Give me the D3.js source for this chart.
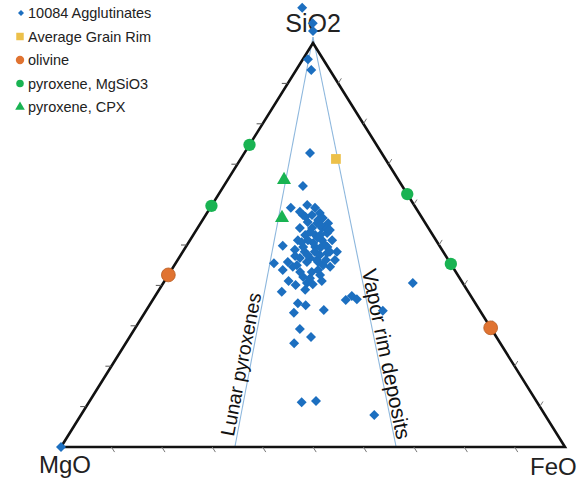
<!DOCTYPE html>
<html><head><meta charset="utf-8">
<script src="https://cdn.jsdelivr.net/npm/d3@7/dist/d3.min.js"></script>
<style>body{margin:0;background:#fff}svg{display:block}text{font-family:"Liberation Sans",Arial,sans-serif}</style>
</head><body>
<svg id="c" width="583" height="481"></svg>
<script>
// Ternary compositions in percent (SiO2, FeO; MgO = 100 - SiO2 - FeO)
const aggSiO2 = [108.7,104.9,103.0,96.0,93.3,72.8,64.6,59.2,59.9,59.2,57.4,57.9,56.7,55.7,55.4,55.4,54.2,54.2,52.5,52.5,53.0,51.2,51.2,51.2,51.2,49.5,49.5,49.5,49.8,48.8,48.3,48.3,48.0,48.3,46.3,44.6,45.5,43.8,45.0,45.8,46.3,45.0,44.6,42.1,41.1,40.6,40.3,41.1,38.4,38.9,35.6,35.1,33.2,33.9,36.4,37.4,36.6,33.7,40.6,29.2,27.2,25.7,11.1,11.4,7.9,0,46.8,46.8,43.8,43.3,50.0,54.2,47.5,57.4,
  58.2,56.2,54.2,53.2,52.5,53.7,50.7,50.5,49.3,48.3,47.5,45.8,46.3,47.3,45.8,43.3,41.8,42.6,40.1,57.0,55.0,51.8];
const aggFeO  = [-6.5,-2.5,-1.5,1.0,3.0,13.0,15.7,16.0,18.9,20.8,21.1,22.4,23.6,21.1,23.1,25.3,22.7,24.7,22.2,24.2,26.3,28.2,21.4,23.4,26.2,23.3,25.7,28.1,19.1,22.0,24.2,26.2,28.8,30.6,31.2,31.1,19.5,22.1,24.3,25.9,27.6,29.5,23.7,27.0,24.6,28.5,29.8,31.2,24.6,29.0,29.2,31.0,29.6,35.2,38.3,39.0,40.4,47.0,49.5,32.8,36.0,33.4,42.2,44.9,58.2,0,26.0,24.0,29.1,28.1,27.4,20.3,27.6,19.3,
  18.3,22.9,25.5,22.8,25.2,26.5,22.4,24.8,26.8,29.2,25.2,28.1,29.4,22.8,22.1,25.8,28.5,30.1,26.5,20.0,24.0,25.0];
const rimSiO2 = [71.3], rimFeO = [18.9];
const olivineSiO2 = [42.6,29.5], olivineFeO = [0,70.5];
const pyxSiO2 = [74.8,59.7,62.6,45.3], pyxFeO = [0,0,37.4,54.7];
const cpxSiO2 = [66.1,56.7], cpxFeO = [11.2,15.5];
const guideBaseFeO = [34.5,66.5]; // reference lines from SiO2 apex to base
const legendLabels = ["10084 Agglutinates","Average Grain Rim","olivine","pyroxene, MgSiO3","pyroxene, CPX"];
const cornerLabels = ["SiO2","MgO","FeO"];
const guideLabels = ["Lunar pyroxenes","Vapor rim deposits"];
const tickPcts = [10,20,30,40,50,60,70,80,90];

const svg = d3.select("#c");
const x = d3.scaleLinear().domain([0,100]).range([61,565]);
const y = d3.scaleLinear().domain([0,100]).range([447,43]);
const P = (s,f) => [x(f + s/2), y(s)];

const BLUE="#1c6fc0", GOLD="#ecc04a", ORANGE="#e07331", GREEN="#19b352", LINE="#8db7dd";

guideBaseFeO.forEach(f=>{
  const a=P(100,0), b=P(0,f);
  svg.append("line").attr("x1",a[0]).attr("y1",a[1]-6).attr("x2",b[0]).attr("y2",b[1])
   .attr("stroke",LINE).attr("stroke-width",1.1);
});

const A=P(0,0), B=P(0,100), C=P(100,0);
svg.append("path").attr("d",`M${A}L${B}L${C}Z`).attr("fill","none").attr("stroke","#111").attr("stroke-width",2.6).attr("stroke-linejoin","miter");

const tl=6;
const ux=(C[0]-B[0]), uy=(C[1]-B[1]); const ul=Math.hypot(ux,uy);
const vx=C[0]-A[0], vy=C[1]-A[1], vl=Math.hypot(vx,vy);
tickPcts.forEach(t=>{
  let p=P(0,t);
  svg.append("line").attr("x1",p[0]).attr("y1",p[1]).attr("x2",p[0]-tl*ux/ul).attr("y2",p[1]-tl*uy/ul)
    .attr("stroke","#777").attr("stroke-width",1);
  p=P(t,0);
  svg.append("line").attr("x1",p[0]).attr("y1",p[1]).attr("x2",p[0]-tl).attr("y2",p[1]).attr("stroke","#555").attr("stroke-width",1);
  p=P(t,100-t);
  svg.append("line").attr("x1",p[0]).attr("y1",p[1]).attr("x2",p[0]+tl*vx/vl).attr("y2",p[1]+tl*vy/vl).attr("stroke","#777").attr("stroke-width",1);
});

(function(){
  const a=P(100,0), b=P(0,guideBaseFeO[0]);
  const ang=Math.atan2(a[1]-b[1],a[0]-b[0])*180/Math.PI;
  const t=0.025; const px=b[0]+(a[0]-b[0])*t-3, py=b[1]+(a[1]-b[1])*t;
  svg.append("text").attr("transform",`translate(${px},${py}) rotate(${ang})`).attr("font-size",19.5).attr("fill","#111").text(guideLabels[0]);
  const b2=P(0,guideBaseFeO[1]);
  const ang2=Math.atan2(b2[1]-a[1],b2[0]-a[0])*180/Math.PI;
  const t2=0.563; const qx=a[0]+(b2[0]-a[0])*t2+2, qy=a[1]+(b2[1]-a[1])*t2;
  svg.append("text").attr("transform",`translate(${qx},${qy}) rotate(${ang2})`).attr("font-size",21).attr("fill","#111").text(guideLabels[1]);
})();

svg.append("text").attr("x",C[0]).attr("y",32).attr("text-anchor","middle").attr("font-size",25).attr("fill","#222").text(cornerLabels[0]);
svg.append("text").attr("x",39).attr("y",473).attr("font-size",24).attr("fill","#222").text(cornerLabels[1]);
svg.append("text").attr("x",530).attr("y",475).attr("font-size",24).attr("fill","#222").text(cornerLabels[2]);

const sym = (type,size)=>d3.symbol().type(type).size(size)();
function plot(sArr,fArr,type,size,color,rot,stroke){
  svg.append("g").selectAll("path").data(sArr.map((s,i)=>P(s,fArr[i]))).join("path")
   .attr("d",sym(type,size)).attr("transform",d=>`translate(${d[0]},${d[1]}) rotate(${rot})`)
   .attr("fill",color).attr("stroke",stroke||"none").attr("stroke-width",0.8);
}
plot(aggSiO2,aggFeO,d3.symbolSquare,50,BLUE,45);
plot(rimSiO2,rimFeO,d3.symbolSquare,95,GOLD,0);
plot(olivineSiO2,olivineFeO,d3.symbolCircle,150,ORANGE,0,"#b85a20");
plot(pyxSiO2,pyxFeO,d3.symbolCircle,120,GREEN,0);
plot(cpxSiO2,cpxFeO,d3.symbolTriangle,85,GREEN,0);

const lg=svg.append("g");
const rows=[13,36.5,60,83.5,107];
const lsyms=[[d3.symbolSquare,18,BLUE,45],[d3.symbolSquare,56,GOLD,0],[d3.symbolCircle,55,ORANGE,0],[d3.symbolCircle,45,GREEN,0],[d3.symbolTriangle,40,GREEN,0]];
legendLabels.forEach((l,i)=>{
  const s=lsyms[i];
  lg.append("path").attr("d",sym(s[0],s[1])).attr("transform",`translate(${i==0?21:20},${rows[i]}) rotate(${s[3]})`).attr("fill",s[2]);
  lg.append("text").attr("x",28).attr("y",rows[i]+5).attr("font-size",14.5).attr("fill","#222").text(l);
});
</script>
</body></html>
